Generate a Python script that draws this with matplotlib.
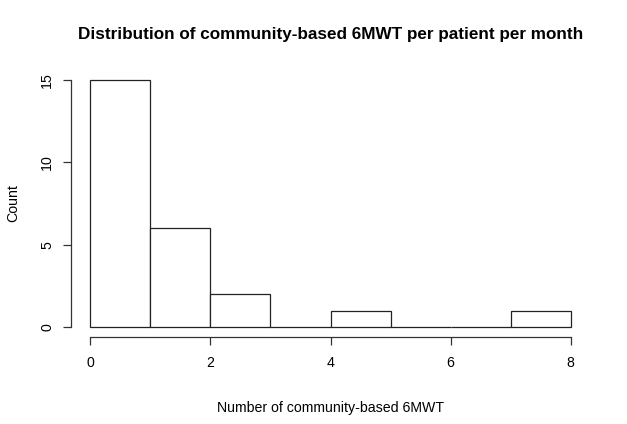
import matplotlib
matplotlib.use("Agg")
import matplotlib.pyplot as plt

# histogram bins (left edges) and counts
bin_left = [0, 1, 2, 3, 4, 5, 6, 7]
counts = [15, 6, 2, 0, 1, 0, 0, 1]
x_ticks = [0, 2, 4, 6, 8]
y_ticks = [0, 5, 10, 15]

plt.rcParams['font.family'] = ['Liberation Sans', 'DejaVu Sans']

fig = plt.figure(figsize=(6.27, 4.24), dpi=100)
ax = fig.add_axes([71 / 627, 1 - 337 / 424, 519 / 627, 267 / 424])

ax.bar(bin_left, counts, width=1, align='edge', facecolor='white',
       edgecolor='#222222', linewidth=0.9)

ax.set_xlim(-0.32, 8.32)
ax.set_ylim(-0.6, 15.6)

ax.spines['top'].set_visible(False)
ax.spines['right'].set_visible(False)
ax.spines['left'].set_bounds(0, 15)
ax.spines['bottom'].set_bounds(0, 8)
for s in ['left', 'bottom']:
    ax.spines[s].set_linewidth(0.9)
    ax.spines[s].set_color('#333333')

ax.set_xticks(x_ticks)
ax.set_yticks(y_ticks)
ax.tick_params(axis='both', length=6, width=0.9, color='#333333', labelsize=10.2)
ax.tick_params(axis='x', pad=8)
ax.tick_params(axis='y', pad=6)
for lab in ax.get_yticklabels():
    lab.set_rotation(90)
    lab.set_va('center')

fig.text(0.5 * (71 + 590) / 627, 1 - 408 / 424, 'Number of community-based 6MWT',
         ha='center', va='center', fontsize=10.2)
fig.text(13 / 627, 1 - 203 / 424, 'Count', rotation=90,
         ha='center', va='center', fontsize=10.2)
fig.text(0.5 * (71 + 590) / 627, 1 - 35 / 424,
         'Distribution of community-based 6MWT per patient per month',
         ha='center', va='center', fontsize=12.3, fontweight='bold')

fig.savefig('out.png', dpi=100)
